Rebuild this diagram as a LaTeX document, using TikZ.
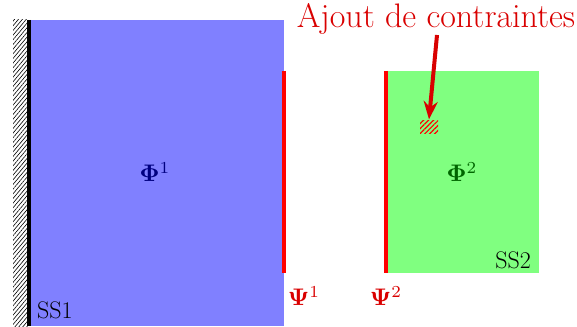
\documentclass[tikz,border=0pt]{standalone}
\usepackage{graphicx}
\usetikzlibrary{patterns,patterns.meta,arrows.meta}
\newcommand{\biglbl}[1]{\scalebox{2.4}{$#1$}}
\begin{document}
\begin{tikzpicture}[x=1pt,y=-1pt,
  lbl/.style={inner sep=0pt},
  big/.style={inner sep=0pt,font=\fontsize{34}{40}\selectfont},
  small/.style={inner sep=0pt,font=\fontsize{24}{28}\selectfont},
  iface/.style={red,line width=4pt}]
\useasboundingbox (0,0) rectangle (577,326);
% wall hatching
\fill[pattern={Lines[angle=50,distance=3pt,line width=0.6pt]}] (13,20) rectangle (28,326);
% SS1
\fill[blue!50] (29,20) rectangle (284,326);
\draw[line width=4pt] (29,20) -- (29,326);
% SS2
\fill[green!50] (386,71) rectangle (539,273);
% interfaces
\coordinate (i1t) at (284,71); \coordinate (i1b) at (284,273);
\coordinate (i2t) at (386,71); \coordinate (i2b) at (386,273);
\draw[iface] (i1t) -- (i1b);
\draw[iface] (i2t) -- (i2b);
% labels
\node[lbl,text=blue!50!black] (phi1) at (155,172) {\biglbl{\mathbf{\Phi}^1}};
\node[lbl,text=green!40!black] (phi2) at (462,172) {\biglbl{\mathbf{\Phi}^2}};
\node[small,anchor=base west] (ss1) at (37,318) {SS1};
\node[small,anchor=base east] (ss2) at (531,268) {SS2};
\node[lbl,text=red!85!black] (psi1) at (304,296) {\biglbl{\mathbf{\Psi}^1}};
\node[lbl,text=red!85!black] (psi2) at (386,296) {\biglbl{\mathbf{\Psi}^2}};
% constraint
\node[draw=none,pattern={Lines[angle=45,distance=3.5pt,line width=1.2pt]},pattern color=red,minimum width=18pt,minimum height=13pt,inner sep=0pt] (c) at (429,126.5) {};
\node[big,text=red!85!black,anchor=base] (aj) at (436,28) {Ajout de contraintes};
\coordinate (as) at (437,35);
\draw[red!85!black,line width=4pt,-{Stealth[length=18pt,width=14pt]}] (as) -- (c.north);
\end{tikzpicture}
\end{document}
